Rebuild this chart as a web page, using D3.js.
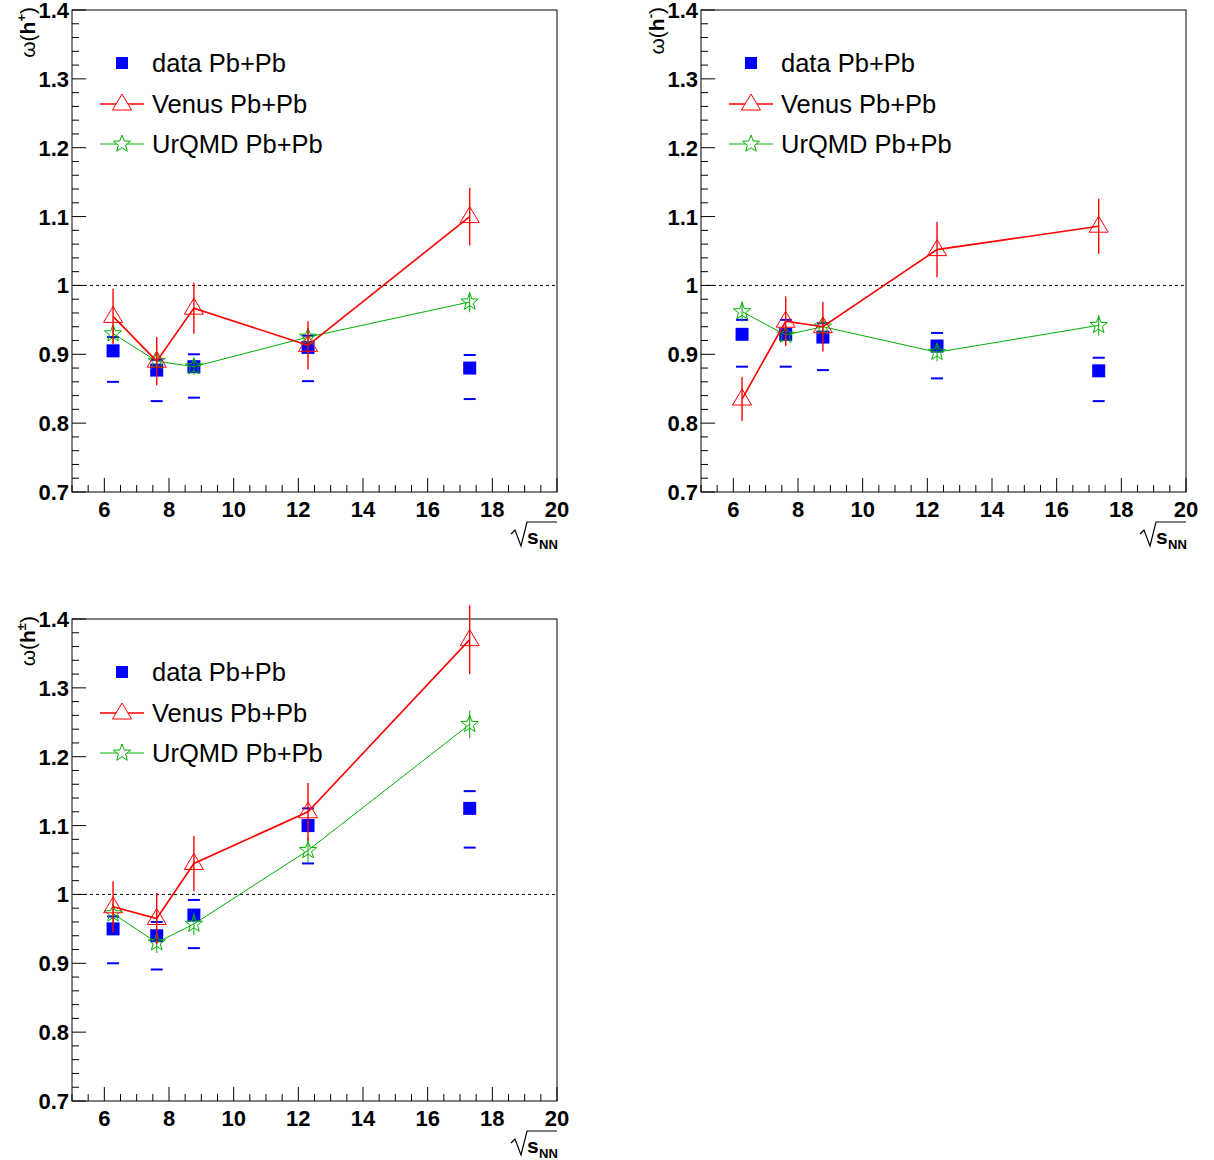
<!DOCTYPE html>
<html><head><meta charset="utf-8">
<script src="https://cdn.jsdelivr.net/npm/d3@7"></script>
<style>body{margin:0;background:#fff}</style>
</head><body>
<svg id="c" width="1214" height="1160"></svg>
<script>
const energies = [6.27, 7.62, 8.77, 12.3, 17.3];
const seriesNames = ["data Pb+Pb", "Venus Pb+Pb", "UrQMD Pb+Pb"];
const xTicks = [6, 8, 10, 12, 14, 16, 18, 20];
const yTicks = [0.7, 0.8, 0.9, 1.0, 1.1, 1.2, 1.3, 1.4];

// h+
const dataPos = [0.905, 0.877, 0.882, 0.910, 0.880];
const sysPosHi = [0.925, 0.892, 0.900, 0.927, 0.899];
const sysPosLo = [0.860, 0.832, 0.837, 0.861, 0.835];
const venusPos = [0.955, 0.890, 0.967, 0.913, 1.100];
const venusPosErr = [0.040, 0.035, 0.037, 0.035, 0.042];
const urqmdPos = [0.930, 0.890, 0.882, 0.925, 0.976];
const urqmdPosErr = [0.012, 0.009, 0.012, 0.012, 0.015];
// h-
const dataNeg = [0.929, 0.929, 0.925, 0.912, 0.876];
const sysNegHi = [0.950, 0.950, 0.945, 0.931, 0.895];
const sysNegLo = [0.882, 0.882, 0.877, 0.865, 0.832];
const venusNeg = [0.835, 0.948, 0.940, 1.052, 1.086];
const venusNegErr = [0.032, 0.036, 0.036, 0.040, 0.040];
const urqmdNeg = [0.962, 0.928, 0.940, 0.903, 0.942];
const urqmdNegErr = [0.015, 0.015, 0.013, 0.013, 0.015];
// h+-
const dataAll = [0.950, 0.940, 0.970, 1.100, 1.125];
const sysAllHi = [0.968, 0.960, 0.992, 1.125, 1.150];
const sysAllLo = [0.900, 0.891, 0.922, 1.045, 1.068];
const venusAll = [0.982, 0.965, 1.045, 1.120, 1.370];
const venusAllErr = [0.037, 0.037, 0.040, 0.042, 0.050];
const urqmdAll = [0.972, 0.930, 0.957, 1.064, 1.247];
const urqmdAllErr = [0.015, 0.015, 0.016, 0.018, 0.020];

const svg = d3.select("#c");
const W = 485, H = 482;
const FONT = "Liberation Sans, Arial, sans-serif";

function star(cx, cy, r) {
  const pts = [];
  for (let k = 0; k < 10; k++) {
    const a = -Math.PI / 2 + k * Math.PI / 5;
    const rr = k % 2 ? r * 0.42 : r;
    pts.push([cx + rr * Math.cos(a), cy + rr * Math.sin(a)]);
  }
  return "M" + pts.join("L") + "Z";
}
function tri(cx, cy, r) {
  return `M${cx},${cy - r}L${cx + r * 0.95},${cy + r * 0.6}L${cx - r * 0.95},${cy + r * 0.6}Z`;
}

function panel(ox, oy, sup, data, hi, lo, ven, venErr, urq, urqErr) {
  const g = svg.append("g").attr("transform", `translate(${ox},${oy})`);
  const x = d3.scaleLinear().domain([5, 20]).range([0, W]);
  const y = d3.scaleLinear().domain([0.7, 1.4]).range([H, 0]);

  g.append("rect").attr("width", W).attr("height", H)
    .attr("fill", "none").attr("stroke", "#000").attr("stroke-width", 1);

  // ticks (inside, ROOT style)
  d3.range(5, 20.01, 0.5).forEach(v => {
    const major = Math.abs(v % 2) < 1e-6;
    g.append("line").attr("x1", x(v)).attr("x2", x(v))
      .attr("y1", H).attr("y2", H - (major ? 14 : 7)).attr("stroke", "#000");
  });
  d3.range(0.7, 1.4001, 0.02).forEach(v => {
    const major = Math.abs(Math.round(v * 10) - v * 10) < 1e-6;
    g.append("line").attr("y1", y(v)).attr("y2", y(v))
      .attr("x1", 0).attr("x2", major ? 14 : 7).attr("stroke", "#000");
  });
  xTicks.forEach(v => g.append("text").attr("x", x(v)).attr("y", H + 25)
    .attr("text-anchor", "middle").attr("font-family", FONT).attr("font-weight", "bold")
    .attr("font-size", 22).text(v));
  yTicks.forEach(v => g.append("text").attr("x", -3).attr("y", y(v) + 8)
    .attr("text-anchor", "end").attr("font-family", FONT).attr("font-weight", "bold")
    .attr("font-size", 22).text(v === 1 ? "1" : v.toFixed(1)));

  // x title
  const xt = g.append("g").attr("transform", `translate(${W},${H + 54})`);
  xt.append("path").attr("d", "M-46,-12 L-42,-16 L-36,0 L-30,-24 L0,-24")
    .attr("fill", "none").attr("stroke", "#000").attr("stroke-width", 1.2);
  xt.append("text").attr("x", -30).attr("y", -2).attr("font-family", FONT)
    .attr("font-weight", "bold").attr("font-size", 21).text("s");
  xt.append("text").attr("x", -18).attr("y", 3).attr("font-family", FONT)
    .attr("font-weight", "bold").attr("font-size", 13).text("NN");

  // y title
  const yt = g.append("text").attr("transform", `translate(-37,-3) rotate(-90)`)
    .attr("text-anchor", "end").attr("font-family", FONT).attr("font-size", 21);
  yt.append("tspan").text("ω(");
  yt.append("tspan").attr("font-weight", "bold").text("h");
  yt.append("tspan").attr("font-weight", "bold").attr("font-size", 13).attr("dy", -9).text(sup);
  yt.append("tspan").attr("dy", 9).text(")");

  // dashed line at 1
  g.append("line").attr("x1", 0).attr("x2", W).attr("y1", y(1)).attr("y2", y(1))
    .attr("stroke", "#000").attr("stroke-dasharray", "3,3");

  const line = d3.line().x((d, i) => x(energies[i])).y(d => y(d));

  // data squares and systematic dashes
  energies.forEach((e, i) => {
    g.append("rect").attr("x", x(e) - 6.5).attr("y", y(data[i]) - 6.5)
      .attr("width", 13).attr("height", 13).attr("fill", "#0000ff");
    [hi[i], lo[i]].forEach(v => g.append("line").attr("x1", x(e) - 6).attr("x2", x(e) + 6)
      .attr("y1", y(v)).attr("y2", y(v)).attr("stroke", "#0000ff").attr("stroke-width", 2));
  });

  // UrQMD
  g.append("path").attr("d", line(urq)).attr("fill", "none").attr("stroke", "#00b000").attr("stroke-width", 1);
  energies.forEach((e, i) => {
    g.append("line").attr("x1", x(e)).attr("x2", x(e)).attr("y1", y(urq[i] - urqErr[i]))
      .attr("y2", y(urq[i] + urqErr[i])).attr("stroke", "#00b000");
    g.append("path").attr("d", star(x(e), y(urq[i]), 9)).attr("fill", "none").attr("stroke", "#00b000");
  });

  // Venus
  g.append("path").attr("d", line(ven)).attr("fill", "none").attr("stroke", "#ff0000").attr("stroke-width", 1.6);
  energies.forEach((e, i) => {
    g.append("line").attr("x1", x(e)).attr("x2", x(e)).attr("y1", y(ven[i] - venErr[i]))
      .attr("y2", y(ven[i] + venErr[i])).attr("stroke", "#ff0000").attr("stroke-width", 1.4);
    g.append("path").attr("d", tri(x(e), y(ven[i]), 10)).attr("fill", "none").attr("stroke", "#ff0000");
  });

  // legend
  const ly = [53, 94, 134];
  g.append("rect").attr("x", 44).attr("y", ly[0] - 6).attr("width", 12).attr("height", 12).attr("fill", "#0000ff");
  g.append("line").attr("x1", 28).attr("x2", 72).attr("y1", ly[1]).attr("y2", ly[1]).attr("stroke", "#ff0000").attr("stroke-width", 1.6);
  g.append("path").attr("d", tri(50, ly[1], 10)).attr("fill", "#fff").attr("stroke", "#ff0000");
  g.append("line").attr("x1", 28).attr("x2", 72).attr("y1", ly[2]).attr("y2", ly[2]).attr("stroke", "#00b000");
  g.append("path").attr("d", star(50, ly[2], 9)).attr("fill", "#fff").attr("stroke", "#00b000");
  seriesNames.forEach((n, i) => g.append("text").attr("x", 80).attr("y", ly[i] + 9)
    .attr("font-family", FONT).attr("font-size", 25.5).text(n));
}

panel(72, 10, "+", dataPos, sysPosHi, sysPosLo, venusPos, venusPosErr, urqmdPos, urqmdPosErr);
panel(701, 10, "-", dataNeg, sysNegHi, sysNegLo, venusNeg, venusNegErr, urqmdNeg, urqmdNegErr);
panel(72, 619, "±", dataAll, sysAllHi, sysAllLo, venusAll, venusAllErr, urqmdAll, urqmdAllErr);
</script>
</body></html>
